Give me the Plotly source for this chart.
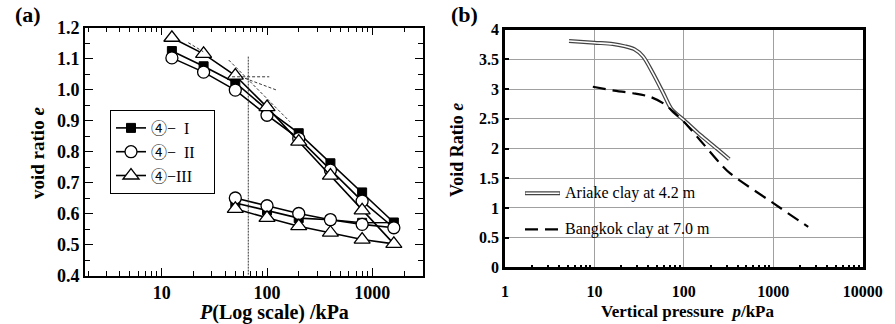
import plotly.graph_objects as go

# ---------------- Panel (a) data ----------------
P_load = [12.5, 25, 50, 100, 200, 400, 800, 1600]
P_unload = [800, 400, 200, 100, 50]
e_I_load = [1.124, 1.075, 1.022, 0.935, 0.859, 0.762, 0.668, 0.571]
e_I_unload = [0.570, 0.580, 0.585, 0.610, 0.634]
e_II_load = [1.102, 1.056, 0.998, 0.917, 0.842, 0.740, 0.640, 0.554]
e_II_unload = [0.565, 0.580, 0.600, 0.625, 0.650]
e_III_load = [1.167, 1.115, 1.045, 0.943, 0.832, 0.722, 0.610, 0.502]
e_III_unload = [0.516, 0.538, 0.559, 0.586, 0.615]
CIRC4 = "<span style='font-family:Noto Sans CJK JP'>④</span>"
PAD = "\u00a0\u00a0\u00a0<span style='color:white'>.</span>"
series_names = [CIRC4 + "−  I", CIRC4 + "−  II", CIRC4 + "−III" + PAD]

# Casagrande construction lines (panel a)
cons_vert_x = [66.4, 66.4]
cons_vert_y = [1.106, 0.40]
cons_horiz_x = [46.6, 105]
cons_horiz_y = [1.041, 1.041]
cons_tan_x = [61.8, 123.6]
cons_tan_y = [1.036, 0.998]
cons_virgin_x = [43.3, 165]
cons_virgin_y = [1.095, 0.896]
cons_short_x = [17.9, 24.8]
cons_short_y = [1.151, 1.122]

# ---------------- Panel (b) data ----------------
ariake_p = [5.2, 10, 16, 22, 28, 35, 45, 59, 73, 100, 152, 233, 322]
ariake_e = [3.81, 3.78, 3.76, 3.72, 3.67, 3.55, 3.27, 2.93, 2.66, 2.48, 2.23, 2.00, 1.82]
bangkok_p = [9.6, 16, 27, 42, 59, 76, 100, 152, 254, 330, 1000, 2460]
bangkok_e = [3.04, 2.98, 2.93, 2.87, 2.76, 2.62, 2.45, 2.14, 1.75, 1.58, 1.08, 0.68]
legend_b = ["Ariake clay at 4.2 m", "Bangkok clay at 7.0 m"]

SERIF = "Liberation Serif, Times New Roman, serif"

fig = go.Figure()

# ----- panel (a) traces -----
styles = [
    dict(symbol="square", size=9, color="black", line=dict(color="black", width=1)),
    dict(symbol="circle", size=12, color="white", line=dict(color="black", width=1.3)),
    dict(symbol="triangle-up", size=14, color="white", line=dict(color="black", width=1.3)),
]
for name, el, eu, st in zip(series_names,
                            [e_I_load, e_II_load, e_III_load],
                            [e_I_unload, e_II_unload, e_III_unload], styles):
    fig.add_trace(go.Scatter(
        x=P_load + P_unload, y=el + eu, mode="lines+markers", name=name,
        line=dict(color="black", width=1.6), marker=st,
        xaxis="x", yaxis="y", legend="legend"))

for cx, cy, dash in [(cons_vert_x, cons_vert_y, "2px,1px"),
                     (cons_horiz_x, cons_horiz_y, "3px,2px"),
                     (cons_tan_x, cons_tan_y, "3px,2px"),
                     (cons_virgin_x, cons_virgin_y, "3px,2px"),
                     (cons_short_x, cons_short_y, "3px,2px")]:
    fig.add_trace(go.Scatter(x=cx, y=cy, mode="lines", showlegend=False,
                             line=dict(color="#222", width=0.9, dash=dash),
                             xaxis="x", yaxis="y", hoverinfo="skip"))

# ----- panel (b) traces -----
fig.add_trace(go.Scatter(x=ariake_p, y=ariake_e, mode="lines", showlegend=False,
                         line=dict(color="#444", width=4, shape="spline", smoothing=0.8),
                         xaxis="x2", yaxis="y2"))
fig.add_trace(go.Scatter(x=ariake_p, y=ariake_e, mode="lines", showlegend=False,
                         line=dict(color="white", width=1.6, shape="spline", smoothing=0.8),
                         xaxis="x2", yaxis="y2"))
fig.add_trace(go.Scatter(x=bangkok_p, y=bangkok_e, mode="lines", showlegend=False,
                         line=dict(color="black", width=2.2, dash="13px,7px", shape="spline", smoothing=0.8),
                         xaxis="x2", yaxis="y2"))

W, H = 895, 324
def px(x):
    return x / W
def py(y):
    return (H - y) / H

minor_a = [2, 3, 4, 5, 6, 7, 8, 9, 20, 30, 40, 50, 60, 70, 80, 90,
           200, 300, 400, 500, 600, 700, 800, 900, 2000, 3000]
minor_b = [m * d for d in [1, 10, 100, 1000] for m in [2, 3, 4, 5, 6, 7, 8, 9]]

tickfont_a = dict(family=SERIF, size=18, color="black", weight="bold")
tickfont_b = dict(family=SERIF, size=16, color="black", weight="bold")

fig.update_layout(
    width=W, height=H, margin=dict(l=0, r=0, t=0, b=0, pad=0, autoexpand=False),
    paper_bgcolor="white", plot_bgcolor="white", showlegend=True,
    xaxis=dict(type="log", range=[0.272, 3.478], domain=[px(85), px(422.7)], anchor="y",
               showline=True, linecolor="black", linewidth=1.6, mirror="allticks",
               ticks="inside", ticklen=8, tickwidth=1.4, tickcolor="black",
               tickvals=[10, 100, 1000], ticktext=["10", "100", "1000"],
               minor=dict(tickvals=minor_a, ticks="inside", ticklen=5, tickwidth=1.2, tickcolor="black"),
               showgrid=False, zeroline=False, tickfont=tickfont_a, automargin=False),
    yaxis=dict(range=[0.4, 1.2], domain=[py(275.5), py(27.5)], anchor="x",
               showline=True, linecolor="black", linewidth=1.6, mirror="allticks",
               ticks="inside", ticklen=8, tickwidth=1.4, tickcolor="black",
               dtick=0.1, tick0=0.4, tickformat=".1f",
               minor=dict(dtick=0.05, ticks="inside", ticklen=5, tickwidth=1.2, tickcolor="black"),
               showgrid=False, zeroline=False, tickfont=tickfont_a, automargin=False),
    xaxis2=dict(type="log", range=[0, 4], domain=[px(505), px(862.7)], anchor="y2",
                showline=True, linecolor="black", linewidth=2.6, mirror=True,
                ticks="", tickvals=[1, 10, 100, 1000, 10000],
                ticktext=["1", "10", "100", "1000", "10000"],
                minor=dict(tickvals=minor_b, ticks="inside", ticklen=3, tickwidth=1.5,
                           tickcolor="black", showgrid=False),
                showgrid=True, gridcolor="#a0a0a0", gridwidth=1, zeroline=False,
                tickfont=tickfont_b, ticklabelstandoff=8, automargin=False),
    yaxis2=dict(range=[0, 4], domain=[py(267.3), py(29.7)], anchor="x2",
                showline=True, linecolor="black", linewidth=2.6, mirror=True,
                ticks="inside", ticklen=4, tickwidth=1.5, tickcolor="black",
                dtick=0.5, showgrid=True, gridcolor="#a0a0a0", gridwidth=1, zeroline=False,
                tickfont=tickfont_b, automargin=False),
    legend=dict(x=px(110), y=py(110), xanchor="left", yanchor="top",
                bordercolor="black", borderwidth=1, bgcolor="white",
                font=dict(family=SERIF, size=16, color="black"),
                itemsizing="trace", tracegroupgap=0),
)

anns = [
    dict(text="<b>(a)</b>", x=px(28), y=py(15)),
    dict(text="<b>(b)</b>", x=px(464), y=py(15)),
    dict(text="<b><i>P</i>(Log scale) /kPa</b>", x=px(274), y=py(312), size=20),
    dict(text="<b>void ratio <i>e</i></b>", x=px(37), y=py(153), size=19, angle=-90),
    dict(text="<b>Vertical pressure  <i>p</i>/kPa</b>", x=px(687), y=py(311), size=17),
    dict(text="<b>Void Ratio <i>e</i></b>", x=px(457), y=py(150), size=18, angle=-90),
]
for a in anns:
    fig.add_annotation(text=a["text"], x=a["x"], y=a["y"], xref="paper", yref="paper",
                       showarrow=False, xanchor="center", yanchor="middle",
                       textangle=a.get("angle", 0),
                       font=dict(family=SERIF, size=a.get("size", 22), color="black"))

# manual legend for panel (b)
fig.add_shape(type="line", xref="paper", yref="paper", x0=px(525), x1=px(560),
              y0=py(193.3), y1=py(193.3), line=dict(color="#444", width=4))
fig.add_shape(type="line", xref="paper", yref="paper", x0=px(525.5), x1=px(559.5),
              y0=py(193.3), y1=py(193.3), line=dict(color="white", width=1.6))
fig.add_shape(type="line", xref="paper", yref="paper", x0=px(525), x1=px(560),
              y0=py(229.3), y1=py(229.3), line=dict(color="black", width=2.2, dash="13px,7px"))
for txt, yy in zip(legend_b, [193.3, 229.3]):
    fig.add_annotation(text=txt, x=px(563), y=py(yy), xref="paper", yref="paper",
                       showarrow=False, xanchor="left", yanchor="middle",
                       font=dict(family=SERIF, size=16, color="black"))

fig.write_html("out.html", config={"displayModeBar": False},
               post_script="document.body.style.margin='0px';")
